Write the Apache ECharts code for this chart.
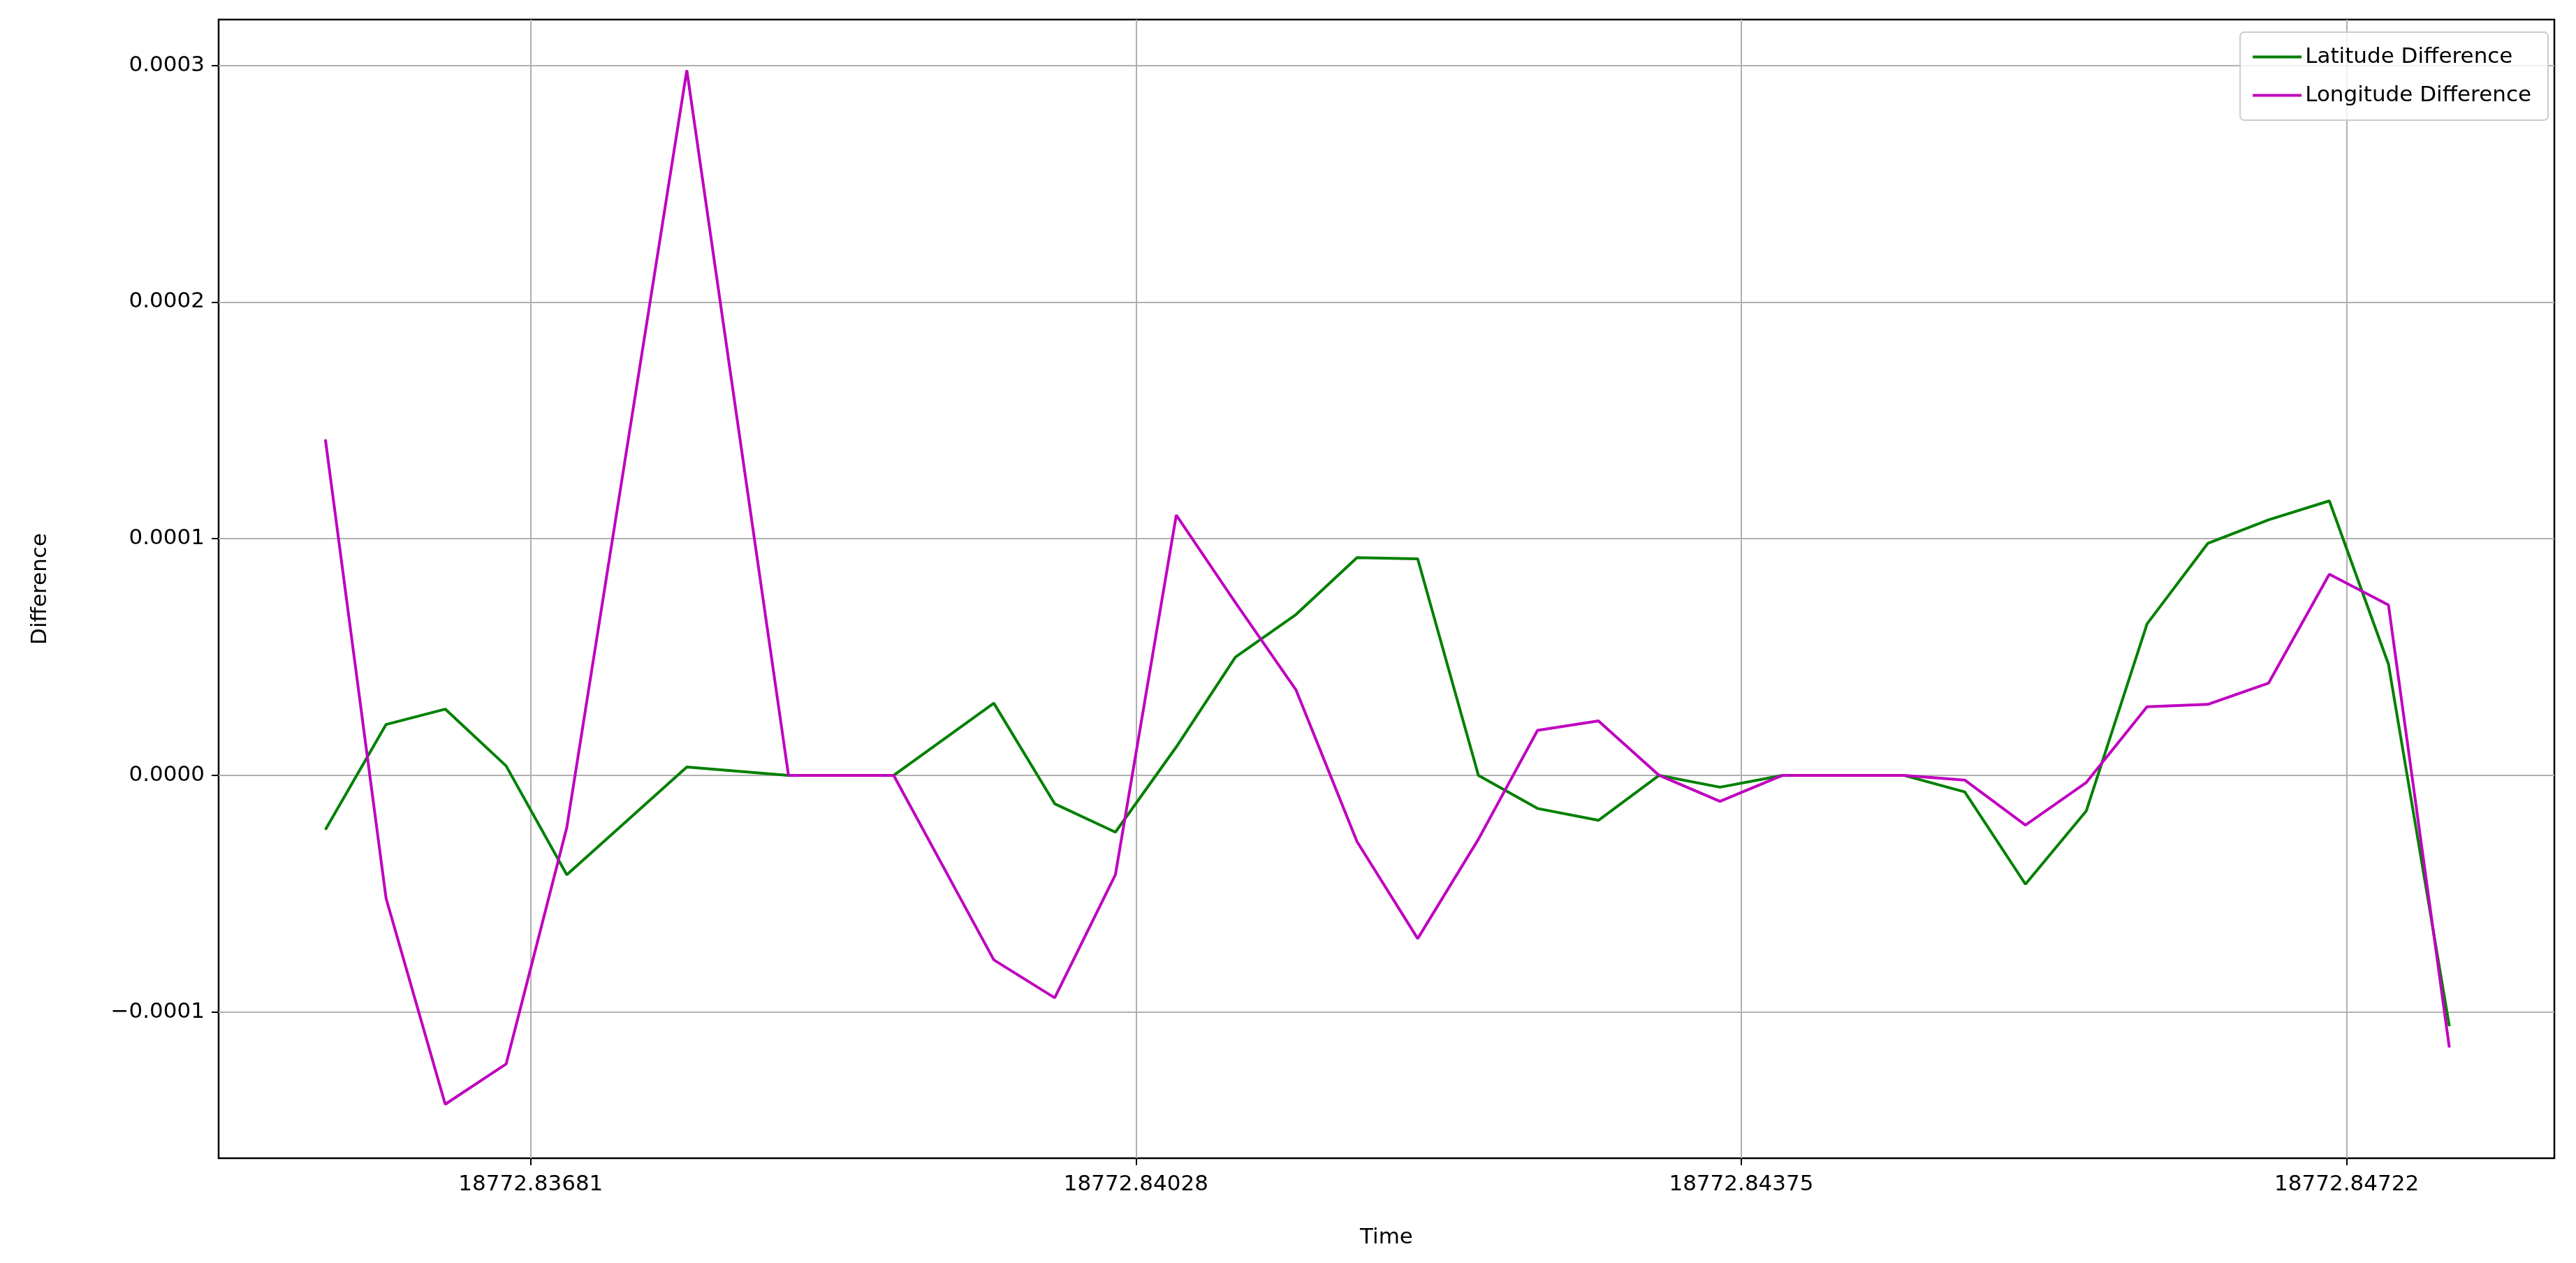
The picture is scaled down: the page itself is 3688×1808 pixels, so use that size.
<!DOCTYPE html>
<html><head><meta charset="utf-8">
<script src="https://cdn.jsdelivr.net/npm/echarts@6/dist/echarts.min.js"></script>
<style>html,body{margin:0;padding:0;background:#fff}#c{width:3688px;height:1808px}</style>
</head><body><div id="c"></div>
<script>
const times = [18772.835633,18772.835981,18772.836320,18772.836669,18772.837017,18772.837705,18772.838288,18772.838891,18772.839465,18772.839814,18772.840162,18772.840511,18772.840850,18772.841198,18772.841547,18772.841895,18772.842243,18772.842582,18772.842931,18772.843279,18772.843628,18772.843986,18772.844682,18772.845031,18772.845379,18772.845728,18772.846076,18772.846424,18772.846773,18772.847121,18772.847460,18772.847809];
const latDiff = [-0.23,0.215,0.28,0.04,-0.42,0.035,0,0,0.305,-0.12,-0.24,0.12,0.5,0.68,0.92,0.915,0,-0.14,-0.19,0,-0.05,0,0,-0.07,-0.46,-0.15,0.64,0.98,1.08,1.16,0.47,-1.06].map(v=>v*1e-4);
const lonDiff = [1.42,-0.52,-1.39,-1.22,-0.22,2.98,0,0,-0.78,-0.94,-0.42,1.10,0.73,0.36,-0.28,-0.69,-0.27,0.19,0.23,0,-0.11,0,0,-0.02,-0.21,-0.03,0.29,0.30,0.39,0.85,0.72,-1.15].map(v=>v*1e-4);
const xTicks = [18772.83681,18772.84028,18772.84375,18772.84722];
const yTicks = [-0.0001,0,0.0001,0.0002,0.0003];
const font = 'DejaVu Sans';
const chart = echarts.init(document.getElementById('c'));
chart.setOption({
  animation:false,
  grid:{left:313,right:31,top:28,bottom:150,show:true,borderColor:'#000',borderWidth:2.5,containLabel:false},
  legend:{top:46,right:40,orient:'vertical',itemWidth:70,itemHeight:4,itemGap:24,
    backgroundColor:'rgba(255,255,255,0.8)',borderColor:'#ccc',borderWidth:2,borderRadius:6,padding:[20,24,20,18],
    textStyle:{fontFamily:font,fontSize:31,color:'#000'},icon:'rect'},
  xAxis:{type:'value',min:18772.835021,max:18772.848411,name:'Time',nameLocation:'middle',nameGap:98,
    nameTextStyle:{fontFamily:font,fontSize:31,color:'#000'},
    axisLine:{show:false,onZero:false},
    axisTick:{show:true,customValues:xTicks,length:10,lineStyle:{color:'#000',width:2}},
    axisLabel:{customValues:xTicks,fontFamily:font,fontSize:31,color:'#000',margin:22,formatter:v=>v.toFixed(5)},
    splitLine:{show:true,lineStyle:{color:'#b0b0b0',width:2}}},
  yAxis:{type:'value',min:-0.0001618,max:0.0003194,name:'Difference',nameLocation:'middle',nameGap:240,
    nameTextStyle:{fontFamily:font,fontSize:31,color:'#000'},
    axisLine:{show:false,onZero:false},
    axisTick:{show:true,customValues:yTicks,length:10,lineStyle:{color:'#000',width:2}},
    axisLabel:{customValues:yTicks,fontFamily:font,fontSize:31,color:'#000',margin:20,formatter:v=>(v<0?'\u2212':'')+Math.abs(v).toFixed(4)},
    splitLine:{show:true,lineStyle:{color:'#b0b0b0',width:2}}},
  series:[
    {name:'Latitude Difference',type:'line',data:times.map((t,i)=>[t,latDiff[i]]),showSymbol:false,lineStyle:{color:'#008000',width:4},itemStyle:{color:'#008000'}},
    {name:'Longitude Difference',type:'line',data:times.map((t,i)=>[t,lonDiff[i]]),showSymbol:false,lineStyle:{color:'#bf00bf',width:4},itemStyle:{color:'#bf00bf'}}
  ]
});
</script></body></html>
